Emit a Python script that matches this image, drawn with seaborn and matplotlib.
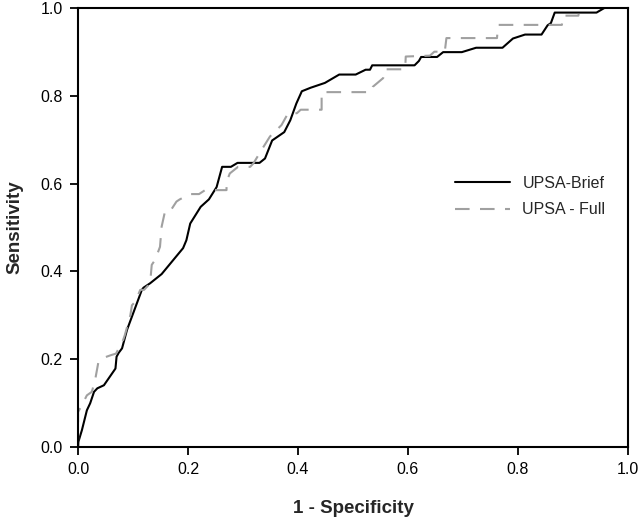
import pandas as pd
import matplotlib
matplotlib.use('Agg')
import matplotlib.pyplot as plt
import seaborn as sns

# ROC curve values (1 - specificity, sensitivity)
brief_fpr = [0, 0.0005, 0.007, 0.016, 0.022, 0.029, 0.035, 0.047, 0.068, 0.07, 0.074, 0.08,
             0.089, 0.116, 0.119, 0.131, 0.152, 0.191, 0.197, 0.204, 0.223, 0.238, 0.252,
             0.262, 0.278, 0.290, 0.330, 0.340, 0.353, 0.375, 0.386, 0.397, 0.407, 0.423,
             0.449, 0.475, 0.505, 0.523, 0.531, 0.535, 0.612, 0.620, 0.624, 0.653, 0.664,
             0.698, 0.724, 0.772, 0.791, 0.813, 0.843, 0.854, 0.860, 0.867, 0.943, 0.958, 1.0]
brief_tpr = [0, 0.012, 0.039, 0.084, 0.100, 0.126, 0.134, 0.141, 0.179, 0.206, 0.215, 0.225,
             0.267, 0.358, 0.363, 0.373, 0.394, 0.453, 0.471, 0.509, 0.547, 0.564, 0.592,
             0.638, 0.638, 0.647, 0.647, 0.657, 0.698, 0.717, 0.744, 0.782, 0.810, 0.818,
             0.829, 0.848, 0.848, 0.859, 0.859, 0.869, 0.869, 0.879, 0.888, 0.888, 0.899,
             0.899, 0.909, 0.909, 0.930, 0.939, 0.939, 0.960, 0.965, 0.989, 0.989, 1.0, 1.0]

full_fpr = [0, 0, 0.007, 0.016, 0.025, 0.031, 0.037, 0.043, 0.061, 0.069, 0.082, 0.085,
            0.095, 0.098, 0.104, 0.113, 0.12, 0.131, 0.134, 0.14, 0.149, 0.152, 0.158,
            0.167, 0.179, 0.185, 0.204, 0.22, 0.231, 0.27, 0.27, 0.276, 0.291, 0.313,
            0.319, 0.334, 0.349, 0.37, 0.382, 0.398, 0.405, 0.443, 0.443, 0.533, 0.536,
            0.555, 0.557, 0.595, 0.596, 0.64, 0.648, 0.667, 0.67, 0.762, 0.764, 0.88,
            0.882, 0.91, 0.913, 1.0]
full_tpr = [0, 0.08, 0.096, 0.118, 0.126, 0.153, 0.194, 0.202, 0.21, 0.213, 0.244, 0.255,
            0.30, 0.323, 0.331, 0.358, 0.358, 0.373, 0.415, 0.426, 0.456, 0.502, 0.536,
            0.536, 0.559, 0.564, 0.576, 0.576, 0.585, 0.585, 0.604, 0.623, 0.638, 0.638,
            0.646, 0.677, 0.707, 0.733, 0.760, 0.760, 0.768, 0.768, 0.808, 0.808, 0.82,
            0.84, 0.86, 0.86, 0.889, 0.891, 0.90, 0.90, 0.931, 0.931, 0.961, 0.961,
            0.982, 0.982, 1.0, 1.0]

ticks = [0.0, 0.2, 0.4, 0.6, 0.8, 1.0]

sns.set_style('ticks')
plt.rcParams['font.family'] = ['Liberation Sans', 'DejaVu Sans']

brief = pd.DataFrame({'fpr': brief_fpr, 'tpr': brief_tpr})
full = pd.DataFrame({'fpr': full_fpr, 'tpr': full_tpr})

fig = plt.figure(figsize=(6.4, 5.17), dpi=100)
ax = fig.add_axes([0.122, 0.135, 0.859, 0.85])

sns.lineplot(data=brief, x='fpr', y='tpr', sort=False, estimator=None, ax=ax,
             color='black', linewidth=1.5, label='UPSA-Brief')
sns.lineplot(data=full, x='fpr', y='tpr', sort=False, estimator=None, ax=ax,
             color='#a0a0a0', linewidth=1.5, dashes=False, label='UPSA - Full')
ax.lines[1].set_dashes([7, 5])

ax.set_xlim(0, 1)
ax.set_ylim(0, 1)
ax.set_xticks(ticks)
ax.set_yticks(ticks)
ax.set_xticklabels([f'{t:.1f}' for t in ticks])
ax.set_yticklabels([f'{t:.1f}' for t in ticks])
ax.tick_params(direction='out', length=6, width=1.3, labelsize=11.5, colors='black', pad=5)

for s in ax.spines.values():
    s.set_linewidth(1.5)
    s.set_color('black')

ax.set_xlabel('1 - Specificity', fontsize=13.5, fontweight='bold', labelpad=16)
ax.set_ylabel('Sensitivity', fontsize=13.5, fontweight='bold', labelpad=12)

leg = ax.legend(loc='upper left', bbox_to_anchor=(0.66, 0.65), frameon=False,
                fontsize=11.5, handlelength=3.4, handletextpad=0.8, labelspacing=0.7)

fig.savefig('out.png', dpi=100)
